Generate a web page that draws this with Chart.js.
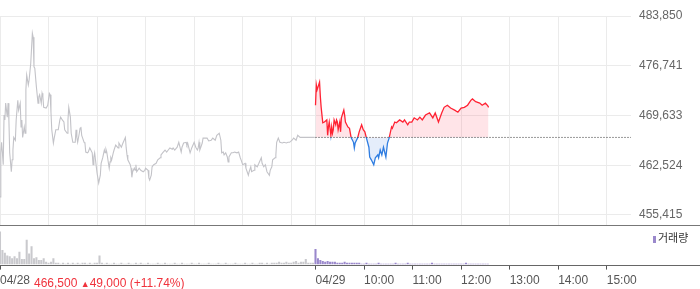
<!DOCTYPE html>
<html>
<head>
<meta charset="utf-8">
<script src="https://cdn.jsdelivr.net/npm/chart.js@4.4.1/dist/chart.umd.min.js"></script>
<style>
html, body { margin: 0; padding: 0; background: #fff; overflow: hidden; width: 700px; height: 289px; }
#wrap { position: relative; width: 700px; height: 289px; }
#priceChart { position: absolute; left: 0; top: 0; }
#volChart { position: absolute; left: 0; top: 226px; }
#change { position: absolute; left: 34px; top: 276px; font: 12px 'Liberation Sans', Arial, sans-serif; color: #f0323c; line-height: 15px; white-space: nowrap; }
#change .tri { font-size: 9px; }
#legend { position: absolute; left: 653px; top: 230px; font: 11px 'Noto Sans CJK KR', sans-serif; color: #333; line-height: 14px; white-space: nowrap; }
#legend i { display: inline-block; width: 3px; height: 7px; background: #9a88cc; margin-right: 2px; vertical-align: -1px; }
</style>
</head>
<body>
<div id="wrap">
  <canvas id="priceChart" width="700" height="226"></canvas>
  <canvas id="volChart" width="700" height="66"></canvas>
  <div id="change">466,500 <span class="tri">▲</span>49,000 (+11.74%)</div>
  <div id="legend"><i></i>거래량</div>
</div>
<script>
/* =========================
   data (minutes counted from 04/28 09:00)
========================= */
const prevClose = 466500;
const priceTicks = [455415, 462524, 469633, 476741, 483850];
const priceMin = 453986;
const priceMax = 483850;

const gridMins = [0, 60, 120, 180, 240, 300, 360, 390, 450, 510, 570, 630, 690, 750];
const labelMins = [0, 390, 450, 510, 570, 630, 690, 750];
const labelTexts = ['04/28', '04/29', '10:00', '11:00', '12:00', '13:00', '14:00', '15:00'];

// 04/28
const prevMins = [
  0, 1, 2, 4, 5, 6, 7, 9, 10, 11,
  12, 14, 15, 16, 17, 19, 20, 22, 23, 25,
  26, 27, 28, 30, 31, 32, 33, 35, 36, 37,
  38, 40, 41, 42, 43, 45, 47, 48, 49, 51,
  52, 53, 54, 57, 59, 61, 62, 63, 64, 66,
  67, 69, 72, 74, 75, 77, 79, 80, 83, 84,
  85, 87, 88, 90, 93, 94, 95, 96, 98, 99,
  100, 101, 104, 105, 106, 108, 109, 111, 114, 115,
  116, 117, 120, 122, 124, 125, 127, 129, 130, 131,
  132, 135, 136, 137, 138, 140, 141, 143, 146, 147,
  150, 152, 155, 156, 157, 158, 161, 162, 163, 164,
  166, 167, 168, 169, 172, 174, 177, 179, 180, 183,
  184, 185, 187, 188, 190, 193, 195, 198, 199, 201,
  204, 206, 208, 210, 213, 214, 216, 219, 221, 224,
  225, 227, 230, 231, 232, 235, 237, 240, 242, 244,
  245, 246, 247, 248, 250, 251, 253, 256, 258, 261,
  263, 266, 268, 271, 273, 274, 276, 277, 279, 281,
  282, 283, 286, 288, 290, 293, 295, 297, 298, 300,
  303, 304, 307, 308, 310, 311, 314, 315, 318, 320,
  323, 324, 326, 328, 330, 333, 334, 336, 337, 340,
  341, 342, 344, 346, 349, 351, 354, 356, 358, 361,
  363, 366, 368, 371, 373, 378, 383, 389
];
const prevPrices = [
  458000, 464300, 465800, 462600, 469700, 469000, 471400, 469400, 471400, 469000,
  464300, 461600, 463300, 464700, 466500, 466100, 469000, 471800, 470400, 471400,
  468000, 469000, 466500, 468000, 467100, 473300, 475400, 474000, 474700, 474700,
  477100, 481400, 480800, 476600, 476400, 473700, 471400, 472300, 472600, 471400,
  472800, 472300, 470800, 470700, 471100, 472800, 472600, 470100, 467600, 465700,
  466400, 467600, 467600, 469000, 469400, 469000, 468700, 467600, 467100, 469000,
  470800, 469400, 467100, 465800, 465800, 467600, 466500, 465800, 467100, 467800,
  468000, 466800, 465800, 465700, 464400, 464300, 464400, 465000, 464300, 462600,
  463700, 464300, 461400, 460000, 461100, 462800, 463600, 464700, 464300, 464800,
  464400, 462100, 463000, 463600, 463300, 464300, 464700, 465400, 465000, 465700,
  465100, 465700, 466500, 465000, 464000, 463300, 462600, 462100, 460800, 461600,
  462100, 461800, 462600, 461600, 462100, 461800, 461600, 461800, 462100, 461800,
  460700, 460400, 461100, 462300, 462600, 462800, 463300, 463600, 464000, 464300,
  464700, 464400, 464700, 465000, 464800, 465000, 464700, 465100, 465800, 464400,
  465100, 465700, 465800, 465400, 465700, 464300, 465000, 465800, 465100, 464700,
  465000, 465800, 464700, 465000, 465700, 466400, 466400, 466400, 466000, 466100,
  466400, 466100, 466800, 467100, 466100, 464300, 464400, 464000, 464300, 463700,
  463000, 463700, 464300, 464300, 464400, 464300, 464400, 463600, 463300, 462600,
  462800, 462100, 461100, 461600, 462300, 461600, 461800, 462600, 462300, 462800,
  463600, 462800, 462300, 462600, 461600, 461100, 461800, 462300, 463300, 463600,
  464000, 465800, 466400, 465800, 465700, 465800, 465700, 465800, 465800, 466100,
  466400, 466100, 466800, 466500, 466500, 466500, 466500, 466500
];

// 04/29
const todayMins = [
  390, 391, 392, 395, 396, 397, 399, 401, 404, 405,
  406, 407, 409, 410, 411, 412, 413, 415, 416, 417,
  418, 420, 421, 422, 425, 426, 427, 430, 432, 434,
  437, 438, 439, 442, 444, 447, 449, 451, 453, 456,
  457, 459, 462, 464, 467, 468, 470, 472, 474, 477,
  479, 481, 484, 485, 488, 490, 494, 498, 500, 504,
  506, 509, 512, 516, 519, 522, 526, 531, 535, 538,
  542, 546, 549, 553, 557, 562, 566, 570, 574, 578,
  582, 584, 588, 593, 596, 600, 603, 604
];
const todayPrices = [
  471100, 474000, 473300, 474400, 472300, 470800, 468600, 468700, 469000, 466800,
  468000, 468700, 466800, 468000, 467100, 467600, 469000, 468300, 469000, 468700,
  467600, 468700, 467300, 469300, 470400, 469700, 468700, 468000, 467800, 466500,
  465800, 465000, 465700, 466400, 467300, 468300, 467600, 467300, 466400, 465100,
  463700, 463300, 462600, 463600, 464000, 463600, 464700, 464000, 465100, 463700,
  465700, 466400, 468000, 467800, 468700, 468600, 469000, 468700, 469000, 468300,
  468700, 468700, 469300, 469000, 469400, 469000, 469700, 470000, 469300, 470000,
  468700, 470000, 470800, 471100, 470700, 470400, 470100, 470700, 470800, 471100,
  471800, 472000, 471600, 471400, 471100, 471400, 471000, 470800
];

// volume, 3-minute bars
const volStep = 3;
const prevVolume = [
  36, 16, 13, 10, 9, 7, 9, 7, 14, 6,
  6, 27, 12, 20, 7, 8, 5, 5, 7, 3,
  2, 3, 7, 2, 2, 1, 2, 1, 2, 1,
  2, 1, 2, 1, 2, 2, 1, 2, 1, 2,
  2, 10, 2, 1, 2, 1, 1, 2, 1, 1,
  2, 1, 1, 2, 1, 1, 2, 1, 2, 1,
  1, 2, 1, 1, 1, 2, 1, 1, 2, 1,
  1, 1, 2, 1, 1, 2, 1, 1, 1, 2,
  1, 1, 2, 1, 1, 1, 2, 1, 1, 1,
  2, 1, 1, 2, 1, 1, 1, 2, 1, 1,
  1, 2, 1, 1, 2, 1, 1, 2, 2, 1,
  2, 1, 2, 2, 2, 3, 2, 2, 3, 2,
  2, 3, 4, 2, 3, 3, 6, 2, 2, 2
];
const todayVolume = [
  17, 7, 5, 4, 3, 4, 3, 3, 3, 2,
  2, 2, 3, 2, 2, 2, 2, 2, 2, 1,
  1, 2, 1, 1, 1, 1, 2, 1, 1, 1,
  1, 1, 1, 2, 1, 1, 1, 1, 2, 1,
  1, 1, 1, 1, 1, 1, 1, 1, 2, 1,
  1, 1, 1, 1, 1, 1, 1, 1, 1, 1,
  1, 1, 2, 1, 1, 1, 1, 1, 1, 1,
  1, 1
];

/* =========================
   defaults
========================= */
Chart.defaults.font.family = "'Liberation Sans', Arial, sans-serif";
Chart.defaults.font.size = 12;
Chart.defaults.color = '#555';
Chart.defaults.animation = false;

const RED = '#ff2233';
const BLUE = '#2f7de1';
const GRID = '#ebebeb';

const zip = (xs, ys) => xs.map((x, i) => ({ x, y: ys[i] }));

// line across the whole width at the bottom of the plot
const fullLine = {
  id: 'fullLine',
  afterDraw(chart, args, opts) {
    const { ctx, chartArea } = chart;
    const y = Math.round(chartArea.bottom) + 0.5;
    ctx.save();
    ctx.strokeStyle = opts.color || '#777';
    ctx.lineWidth = 1;
    ctx.beginPath();
    ctx.moveTo(0, y);
    ctx.lineTo(chart.width, y);
    ctx.stroke();
    ctx.restore();
  }
};

function splitColor(ctx) {
  const chart = ctx.chart;
  const area = chart.chartArea;
  if (!area) return RED;
  const yb = chart.scales.y.getPixelForValue(prevClose);
  const f = Math.min(Math.max((yb - area.top) / (area.bottom - area.top), 0), 1);
  const g = chart.ctx.createLinearGradient(0, area.top, 0, area.bottom);
  g.addColorStop(0, RED);
  g.addColorStop(f, RED);
  g.addColorStop(f, BLUE);
  g.addColorStop(1, BLUE);
  return g;
}

/* =========================
   price chart
========================= */
new Chart(document.getElementById('priceChart'), {
  type: 'line',
  data: {
    datasets: [
      {
        data: [{ x: 390, y: prevClose }, { x: 780, y: prevClose }],
        borderColor: '#333',
        borderWidth: 1,
        borderDash: [1, 2],
        pointRadius: 0,
        fill: false
      },
      {
        data: zip(todayMins, todayPrices),
        borderColor: splitColor,
        borderWidth: 1.3,
        pointRadius: 0,
        tension: 0,
        fill: { target: { value: prevClose }, above: 'rgba(255,90,110,0.16)', below: 'rgba(70,130,230,0.14)' }
      },
      {
        data: zip(prevMins, prevPrices),
        borderColor: '#c3c3c8',
        borderWidth: 1.1,
        pointRadius: 0,
        tension: 0,
        fill: false
      }
    ]
  },
  options: {
    responsive: false,
    layout: { padding: { top: 16, bottom: 1, left: 0, right: 0 } },
    plugins: { legend: { display: false }, tooltip: { enabled: false }, fullLine: { color: '#777' } },
    scales: {
      x: {
        type: 'linear', min: 0, max: 780,
        afterBuildTicks: s => { s.ticks = gridMins.map(v => ({ value: v })); },
        afterFit: s => { s.paddingLeft = 0; s.paddingRight = 0; },
        ticks: { display: false },
        grid: { color: GRID, drawTicks: false },
        border: { display: false }
      },
      y: {
        position: 'right', min: priceMin, max: priceMax,
        afterBuildTicks: s => { s.ticks = priceTicks.map(v => ({ value: v })); },
        afterFit: s => { s.width = 69; s.paddingTop = 0; s.paddingBottom = 0; },
        ticks: { padding: 8, color: '#666', callback: v => v.toLocaleString('en-US') },
        grid: { color: GRID, drawTicks: false },
        border: { display: false }
      }
    }
  },
  plugins: [fullLine]
});

/* =========================
   volume chart
========================= */
new Chart(document.getElementById('volChart'), {
  type: 'bar',
  data: {
    datasets: [
      {
        data: prevVolume.map((v, i) => ({ x: i * volStep, y: v })),
        backgroundColor: '#c9c9cd'
      },
      {
        data: todayVolume.map((v, i) => ({ x: 390 + i * volStep, y: v })),
        backgroundColor: '#9a88cc'
      }
    ]
  },
  options: {
    responsive: false,
    layout: { padding: 0 },
    datasets: { bar: { grouped: false, barPercentage: 0.85, categoryPercentage: 1 } },
    plugins: { legend: { display: false }, tooltip: { enabled: false }, fullLine: { color: '#666' } },
    scales: {
      x: {
        type: 'linear', min: 0, max: 780, offset: false,
        afterBuildTicks: s => { s.ticks = labelMins.map(v => ({ value: v })); },
        afterFit: s => { s.paddingLeft = 0; s.paddingRight = 0; },
        ticks: {
          align: 'start', padding: 4, color: '#555', maxRotation: 0, autoSkip: false,
          callback: v => labelTexts[labelMins.indexOf(v)]
        },
        grid: { offset: false, drawOnChartArea: false, drawTicks: true, tickLength: 5, color: '#555' },
        border: { display: false }
      },
      y: {
        position: 'right', min: 0, max: 42,
        afterFit: s => { s.width = 69; s.paddingTop = 0; s.paddingBottom = 0; },
        ticks: { display: false },
        grid: { display: false },
        border: { display: false }
      }
    }
  },
  plugins: [fullLine]
});
</script>
</body>
</html>
